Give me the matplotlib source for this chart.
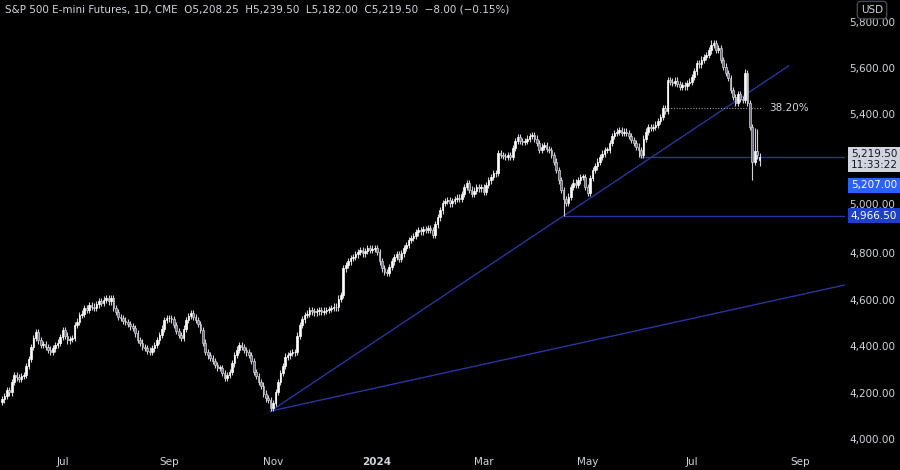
import matplotlib
matplotlib.use("Agg")
import matplotlib.pyplot as plt
import numpy as np
import pandas as pd

closes = [
4175,4190,4215,4205,4250,4280,4270,4265,4275,4280,
4320,4350,4400,4440,4466,4430,4410,4415,4400,4390,
4380,4395,4410,4420,4445,4474,4450,4430,4435,4440,
4496,4510,4539,4545,4569,4560,4582,4575,4569,4585,
4600,4590,4605,4612,4598,4612,4570,4552,4530,4526,
4515,4509,4500,4490,4483,4460,4431,4420,4400,4397,
4385,4380,4395,4410,4430,4453,4480,4517,4525,4526,
4520,4496,4470,4453,4440,4480,4517,4535,4548,4530,
4517,4500,4474,4420,4380,4365,4354,4340,4323,4310,
4310,4290,4267,4280,4293,4330,4367,4390,4410,4400,
4388,4378,4367,4340,4293,4275,4250,4235,4200,4180,
4172,4138,4160,4207,4250,4289,4320,4360,4365,4375,
4378,4380,4450,4496,4520,4539,4545,4560,4555,4550,
4555,4560,4552,4558,4560,4565,4570,4575,4572,4610,
4625,4740,4755,4770,4785,4790,4800,4810,4819,4805,
4815,4828,4820,4825,4828,4810,4770,4740,4725,4720,
4745,4770,4790,4800,4780,4805,4828,4840,4862,4870,
4880,4895,4905,4900,4910,4905,4915,4905,4884,4930,
4960,4990,5022,5030,5035,5020,5030,5040,5045,5040,
5060,5090,5108,5080,5060,5075,5090,5085,5091,5070,
5100,5120,5135,5150,5151,5237,5230,5225,5220,5230,
5220,5260,5290,5306,5290,5285,5290,5300,5310,5315,
5300,5280,5250,5265,5270,5255,5250,5230,5200,5164,
5120,5078,5040,5022,5050,5091,5110,5100,5120,5134,
5134,5090,5065,5130,5164,5180,5200,5220,5235,5250,
5250,5280,5310,5324,5330,5337,5325,5330,5324,5310,
5294,5280,5265,5250,5230,5300,5330,5350,5345,5350,
5360,5375,5393,5432,5420,5552,5545,5540,5550,5535,
5522,5530,5525,5540,5545,5565,5590,5626,5620,5640,
5652,5660,5680,5703,5710,5682,5690,5639,5610,5582,
5560,5509,5480,5453,5490,5470,5466,5582,5453,5350,
5200,5245,5227.5,5219.5]
first_open = 4165
last_ohlc = (5208.25, 5239.50, 5182.00, 5219.50)
# notable wick extremes (index -> low / high)
wick_lows = {111: 4125, 232: 4966.5, 263: 5219.5, 310: 5121}
wick_highs = {293: 5725, 307: 5600, 311: 5345, 312: 5340}
start_date = "2023-05-29"
month_ticks = ["2023-07-03","2023-09-01","2023-11-01","2024-01-01","2024-03-01","2024-05-01","2024-07-01","2024-09-02"]
month_labels = ["Jul","Sep","Nov","2024","Mar","May","Jul","Sep"]
yticks = [4000,4200,4400,4600,4800,5000,5400,5600,5800]
fib_level = 5432
fib_label = "38.20%"
support_level = 5219.5
lower_support = 4966.5
line_a = [(111, 4125), (348, 4668)]
line_b = [(111, 4125), (232, 4966.5)]
last_price = 5219.50
prev_ref = 5207.00
countdown = "11:33:22"

BG = "black"; TXT = "#d1d4dc"; LINE = "#2a34a0"
fig = plt.figure(figsize=(9, 4.7), dpi=100, facecolor=BG)
ax = fig.add_axes([0, 20/470, 845/900, 450/470], facecolor=BG)
n = len(closes)
opens = [first_open] + closes[:-1]
opens[-1] = last_ohlc[0]
for i, (o, c) in enumerate(zip(opens, closes)):
    hi = wick_highs.get(i, max(o, c) + 14)
    lo = wick_lows.get(i, min(o, c) - 14)
    if i == n - 1:
        hi, lo = last_ohlc[1], last_ohlc[2]
    up = c >= o
    ax.vlines(i, lo, hi, color="#d0d2d8", lw=0.8, zorder=3)
    body = max(abs(c - o), 3)
    ax.add_patch(plt.Rectangle((i - 0.34, min(o, c)), 0.68, body,
                 facecolor="white" if up else "#6a6d78",
                 edgecolor="white" if up else "#d0d2d8", lw=0.5, zorder=4))

xs = np.array([p[0] for p in line_a]); ys = np.array([p[1] for p in line_a])
ax.plot(xs, ys, color=LINE, lw=1, zorder=2)
sl = (line_b[1][1] - line_b[0][1]) / (line_b[1][0] - line_b[0][0])
xe = 325
ax.plot([line_b[0][0], xe], [line_b[0][1], line_b[0][1] + sl * (xe - line_b[0][0])], color=LINE, lw=1, zorder=2)
ax.hlines(support_level, 263, 360, color=LINE, lw=1)
ax.hlines(lower_support, 232, 360, color=LINE, lw=1)
ax.hlines(fib_level, 274, 314, color="#9a9a9a", lw=0.8, linestyles=(0, (1, 1.5)))
ax.text(317, fib_level, fib_label, color=TXT, fontsize=7.5, va="center")

ax.set_xlim(-0.83, 348.3)
ax.set_ylim(3956.9, 5897.4)
dates = pd.bdate_range(start_date, periods=400)
pos = [int(dates.get_indexer([pd.Timestamp(d)], method="bfill")[0]) for d in month_ticks]
for p, lab in zip(pos, month_labels):
    fig.text((2 + 2.42 * p) / 900, 8 / 470, lab, color=TXT, fontsize=7.5,
             ha="center", va="center", fontweight="bold" if lab == "2024" else "normal")
for spine in ax.spines.values():
    spine.set_visible(False)
ax.set_xticks([]); ax.set_yticks([])

def ypix(v):
    return ax.transData.transform((0, v))[1]
for t in yticks:
    yp = ypix(t)
    if t == 5000:
        yp += 3
    if 0 < yp < 470:
        fig.text(872 / 900, yp / 470, f"{t:,.2f}", color=TXT, fontsize=7.5, ha="center", va="center", zorder=1)
# price boxes
yp = ypix(last_price)
fig.text(874/900, (yp - 2)/470, f"{last_price:,.2f}\n{countdown}", color="#131722", fontsize=7.5,
         ha="center", va="center", linespacing=1.15, zorder=5,
         bbox=dict(boxstyle="square,pad=0.2", fc="#d1d4dc", ec="none"))
fig.text(874/900, (yp - 28)/470, f"{prev_ref:,.2f}", color="white", fontsize=7.5, ha="center", va="center", zorder=5,
         bbox=dict(boxstyle="square,pad=0.25", fc="#2962ff", ec="none"))
fig.text(874/900, ypix(lower_support)/470, f"{lower_support:,.2f}", color="white", fontsize=7.5, ha="center", va="center", zorder=5,
         bbox=dict(boxstyle="square,pad=0.25", fc="#1e40c8", ec="none"))
fig.text(5/900, 1 - 9/470, "S&P 500 E-mini Futures, 1D, CME  O5,208.25  H5,239.50  L5,182.00  C5,219.50  −8.00 (−0.15%)",
         color=TXT, fontsize=7.5, va="center")
fig.text(872/900, 1 - 10/470, "USD", color=TXT, fontsize=7.5, ha="center", va="center",
         bbox=dict(boxstyle="round,pad=0.35", fc=BG, ec="#434651"))
fig.savefig("out.png", dpi=100, facecolor=BG)
